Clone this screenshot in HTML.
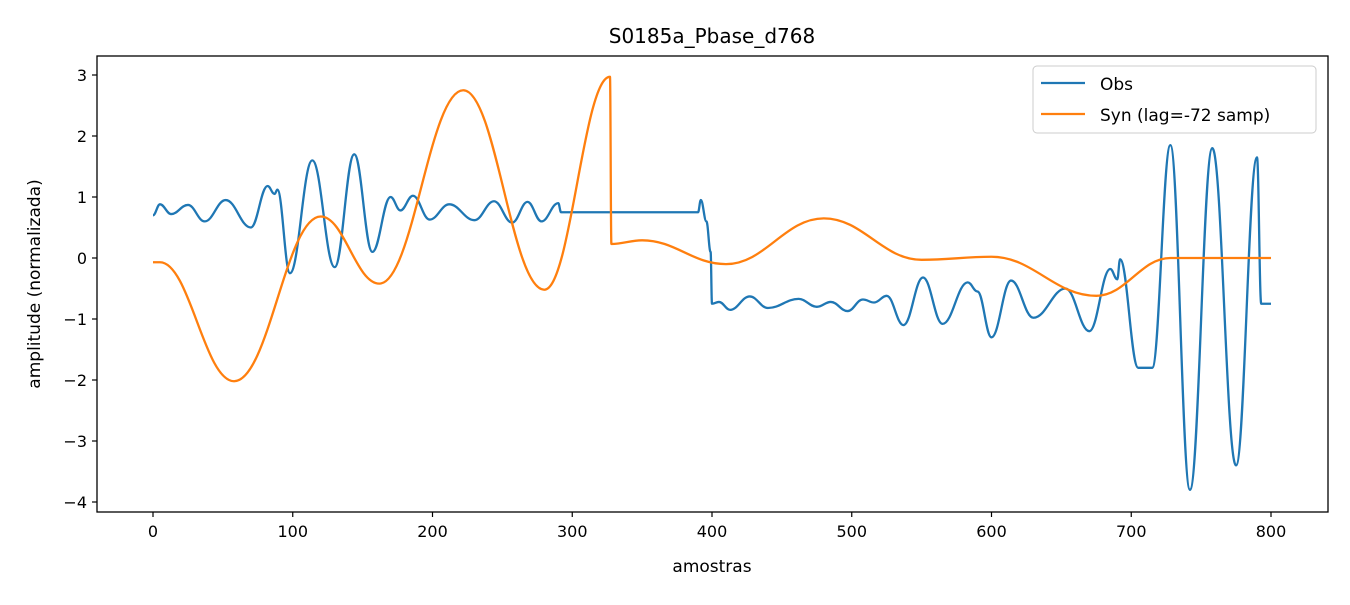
<!DOCTYPE html>
<html><head><meta charset="utf-8"><style>
body{margin:0;background:#fff;}
svg text{font-family:"DejaVu Sans","Liberation Sans",sans-serif;fill:#000;}
</style></head><body>
<svg id="chart" width="1350" height="600" xmlns="http://www.w3.org/2000/svg">
<rect width="1350" height="600" fill="#fff"/>
<text x="712" y="43" font-size="20" text-anchor="middle">S0185a_Pbase_d768</text>
<g id="xticks"></g>
<g id="yticks"></g>
<g id="series"></g>
<rect x="97" y="56" width="1231" height="456" fill="none" stroke="#000" stroke-width="1.3"/>
<text x="712" y="572" font-size="17" text-anchor="middle">amostras</text>
<text transform="translate(40,284) rotate(-90)" font-size="17" text-anchor="middle">amplitude (normalizada)</text>
<g>
<rect x="1033" y="66" width="283" height="67" rx="4" fill="#fff" stroke="#ccc" stroke-width="1"/>
<line x1="1041" y1="83" x2="1085" y2="83" stroke="#1f77b4" stroke-width="2.2"/>
<text x="1100" y="90" font-size="17">Obs</text>
<line x1="1041" y1="114" x2="1085" y2="114" stroke="#ff7f0e" stroke-width="2.2"/>
<text x="1100" y="121" font-size="17">Syn (lag=-72 samp)</text>
</g>
</svg>
<script>
const xTicks=[0,100,200,300,400,500,600,700,800];
const yTicks=[-4,-3,-2,-1,0,1,2,3];
const obsX=[0,5,13,25,37,52,70,82,87,89,98,114,130,144,157,170,177,186,198,212,230,244,257,268,278,290,292,390,392,396,399,400,405,413,427,440,462,475,485,497,508,516,525,537,551,565,583,590,600,614,630,653,670,685,690,692,705,715,728,742,758,775,790,793,800];
const obsY=[0.7,0.88,0.72,0.87,0.6,0.95,0.5,1.18,1.05,1.12,-0.25,1.6,-0.15,1.7,0.1,1.0,0.78,1.02,0.63,0.88,0.62,0.93,0.58,0.92,0.6,0.9,0.75,0.75,0.95,0.6,0.1,-0.75,-0.72,-0.85,-0.63,-0.82,-0.67,-0.8,-0.72,-0.87,-0.68,-0.73,-0.62,-1.1,-0.32,-1.08,-0.4,-0.55,-1.3,-0.37,-0.98,-0.5,-1.2,-0.18,-0.35,-0.02,-1.8,-1.8,1.85,-3.8,1.8,-3.4,1.65,-0.75,-0.75];
const synX=[0,5,58,120,162,222,280,327,328,350,410,480,550,600,675,728,800];
const synY=[-0.07,-0.07,-2.02,0.68,-0.42,2.75,-0.52,2.97,0.23,0.29,-0.1,0.65,-0.03,0.02,-0.62,0,0];
const NS='http://www.w3.org/2000/svg';
const sx=v=>153+v*1.3975, sy=v=>258-v*61;
const svg=document.getElementById('chart');
const gx=document.getElementById('xticks'),gy=document.getElementById('yticks'),gs=document.getElementById('series');
function mk(t,a,p){const e=document.createElementNS(NS,t);for(const k in a)e.setAttribute(k,a[k]);p.appendChild(e);return e;}
xTicks.forEach(v=>{
 const l=mk('line',{x1:sx(v),x2:sx(v),y1:512,y2:517,stroke:'#000','stroke-width':1.2},gx);
 
 
 const t=mk('text',{x:sx(v),y:537,'font-size':16,'text-anchor':'middle'},gx);t.textContent=v;
 
 
});
yTicks.forEach(v=>{
 const l=mk('line',{x1:92,x2:97,y1:sy(v),y2:sy(v),stroke:'#000','stroke-width':1.2},gy);
 
 
 const t=mk('text',{x:87,y:sy(v)+6,'font-size':16,'text-anchor':'end'},gy);t.textContent=(v<0?'\u2212'+(-v):v);
 
 
});
function path(X,Y){let d='M'+sx(X[0])+','+sy(Y[0]);
 for(let i=1;i<X.length;i++){const x0=sx(X[i-1]),x1=sx(X[i]),y0=sy(Y[i-1]),y1=sy(Y[i]),dx=(x1-x0)/2.5;
  d+=' C'+(x0+dx)+','+y0+' '+(x1-dx)+','+y1+' '+x1+','+y1;}
 return d;}
const pO=mk('path',{d:path(obsX,obsY),fill:'none',stroke:'#1f77b4','stroke-width':2.3},gs);


const pS=mk('path',{d:path(synX,synY),fill:'none',stroke:'#ff7f0e','stroke-width':2.3},gs);


</script>
</body></html>
